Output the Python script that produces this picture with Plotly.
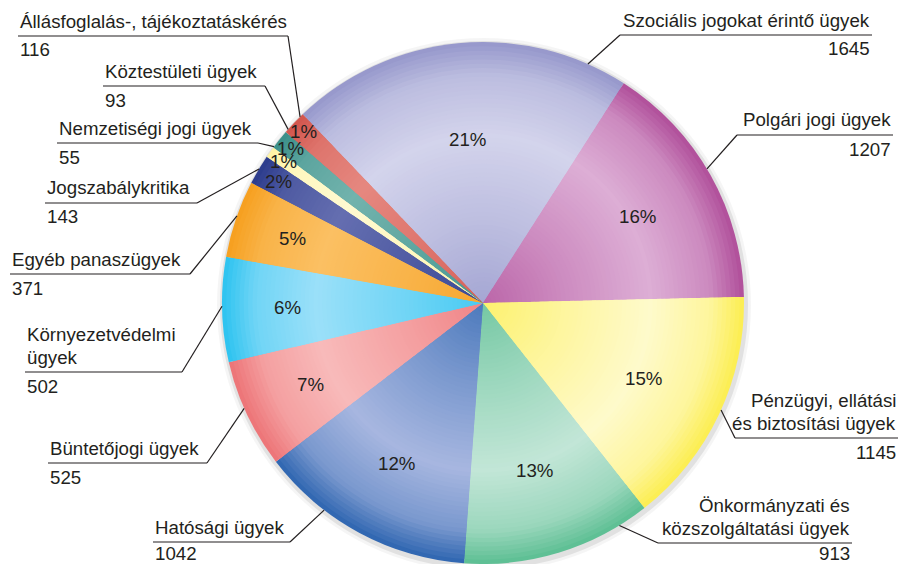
import numpy as np
import plotly.graph_objects as go

# Chart data (slices clockwise, starting with Szociális)
categories = [
    'Szociális jogokat érintő ügyek',
    'Polgári jogi ügyek',
    'Pénzügyi, ellátási<br>és biztosítási ügyek',
    'Önkormányzati és<br>közszolgáltatási ügyek',
    'Hatósági ügyek',
    'Büntetőjogi ügyek',
    'Környezetvédelmi<br>ügyek',
    'Egyéb panaszügyek',
    'Jogszabálykritika',
    'Nemzetiségi jogi ügyek',
    'Köztestületi ügyek',
    'Állásfoglalás-, tájékoztatáskérés',
]
counts = [1645, 1207, 1145, 913, 1042, 525, 502, 371, 143, 55, 93, 116]
pct_labels = ['21%', '16%', '15%', '13%', '12%', '7%', '6%', '5%', '2%', '1%', '1%', '1%']

# Styles
edge_colors = ['#9597cb', '#b04e9a', '#fcee4f', '#5bbe92', '#2d65b0', '#ed7376',
               '#2cc3f0', '#f69f1e', '#2b3b8b', '#fff4a4', '#3a8f89', '#d2554d']
light_colors = ['#e3e3f4', '#e8c6e4', '#fffdea', '#dcf0e8', '#c6cbec', '#fbcccb',
                '#b6e7fb', '#fcc874', '#737bba', '#fffbdc', '#80bcb6', '#ea948c']
# distance of the percent text from the centre, as a fraction of the radius
pct_radius = [0.63, 0.68, 0.68, 0.67, 0.70, 0.73, 0.75, 0.77, 0.91, 0.935, 0.945, 0.95]

# label layout: side, text x, underline y, underline other end x, leader angle (deg clockwise from top)
label_layout = [
    ('right', 872, 35, 620, 23.7),
    ('right', 893, 135, 737, 59.1),
    ('right', 898, 438, 735, 114.2),
    ('right', 852, 543, 658, 148.5),
    ('left', 153, 542, 290, -142.5),
    ('left', 48, 463, 207, -113.8),
    ('left', 25, 372, 182, -90.7),
    ('left', 10, 274, 190, -70.5),
    ('left', 45, 203, 197, -59.1),
    ('left', 57, 143, 258, -53.2),
    ('left', 103, 86, 265, -48.3),
    ('left', 18, 36, 288, -44.5),
]

W, H = 902, 564
CX, CY, R = 483, 303, 261
ROTATION = -43.7
FONT = 'Liberation Sans, Arial, sans-serif'
FSIZE = 18.7
INK = '#231f20'


def px(x):
    return x / W


def py(y):
    return 1 - y / H


def mix(c1, c2, t):
    a = np.array([int(c1[i:i + 2], 16) for i in (1, 3, 5)])
    b = np.array([int(c2[i:i + 2], 16) for i in (1, 3, 5)])
    c = a + (b - a) * t
    return 'rgb(%d,%d,%d)' % tuple(np.round(c))


def lightness(r):
    # radial shading profile: saturated at rim, light in the middle
    return np.interp(r, [0, 0.3, 0.64, 0.87, 1.0], [0.2, 0.5, 0.8, 0.5, 0.0])


fig = go.Figure()

# stacked discs give a soft radial shading
n_rings = 60
for k in range(n_rings):
    r = R * (1 - k / n_rings)
    r_mid = (1 - (k + 0.5) / n_rings)
    t = lightness(r_mid)
    fig.add_trace(go.Pie(
        labels=categories,
        values=counts,
        sort=False,
        direction='clockwise',
        rotation=ROTATION,
        textinfo='none',
        hoverinfo='skip' if k else 'label+value+percent',
        marker=dict(colors=[mix(e, l, t) for e, l in zip(edge_colors, light_colors)],
                    line=dict(width=0)),
        domain=dict(x=[(CX - r) / W, (CX + r) / W], y=[(H - CY - r) / H, (H - CY + r) / H]),
        showlegend=False,
    ))

# slice mid angles from the data
vals = np.array(counts, dtype=float)
start = ROTATION + 360 * (np.cumsum(vals) - vals) / vals.sum()
mid = np.radians(start + 180 * vals / vals.sum())

annotations = []
shapes = []

# soft shadow around the pie
for grow, alpha in [(6, 0.04), (3, 0.08)]:
    shapes.append(dict(type='circle', xref='paper', yref='paper', layer='below',
                       x0=px(CX - R - grow + 1), x1=px(CX + R + grow + 1),
                       y0=py(CY + R + grow + 2), y1=py(CY - R - grow + 2),
                       fillcolor='rgba(0,0,0,%s)' % alpha, line=dict(width=0)))

for i, txt in enumerate(pct_labels):
    rr = pct_radius[i] * R
    annotations.append(dict(x=px(CX + rr * np.sin(mid[i])), y=py(CY - rr * np.cos(mid[i])),
                            xref='paper', yref='paper', text=txt, showarrow=False,
                            xanchor='center', yanchor='middle',
                            font=dict(family=FONT, size=FSIZE, color=INK)))

for i, name in enumerate(categories):
    side, tx, uy, ox, ang = label_layout[i]
    a = np.radians(ang)
    ex, ey = CX + R * np.sin(a), CY - R * np.cos(a)
    shapes.append(dict(type='line', xref='paper', yref='paper', x0=px(tx), x1=px(ox),
                       y0=py(uy), y1=py(uy), line=dict(color=INK, width=1.2)))
    shapes.append(dict(type='line', xref='paper', yref='paper', x0=px(ox), x1=px(ex),
                       y0=py(uy), y1=py(ey), line=dict(color=INK, width=1.2)))
    anchor = 'left' if side == 'left' else 'right'
    lines = name.split('<br>')
    for j, line in enumerate(reversed(lines)):
        annotations.append(dict(x=px(tx), y=py(uy - 15 - 23 * j), xref='paper', yref='paper',
                                text=line, showarrow=False, xanchor=anchor, yanchor='middle',
                                font=dict(family=FONT, size=FSIZE, color=INK)))
    annotations.append(dict(x=px(tx), y=py(min(uy + 14, H - 11)), xref='paper', yref='paper',
                            text=str(counts[i]), showarrow=False, xanchor=anchor, yanchor='middle',
                            font=dict(family=FONT, size=FSIZE, color=INK)))

fig.update_layout(
    width=W, height=H,
    margin=dict(l=0, r=0, t=0, b=0),
    paper_bgcolor='white',
    plot_bgcolor='white',
    annotations=annotations,
    shapes=shapes,
    font=dict(family=FONT, size=FSIZE, color=INK),
)

fig.write_html("out.html", config={'displayModeBar': False},
               post_script="document.body.style.margin='0';")
